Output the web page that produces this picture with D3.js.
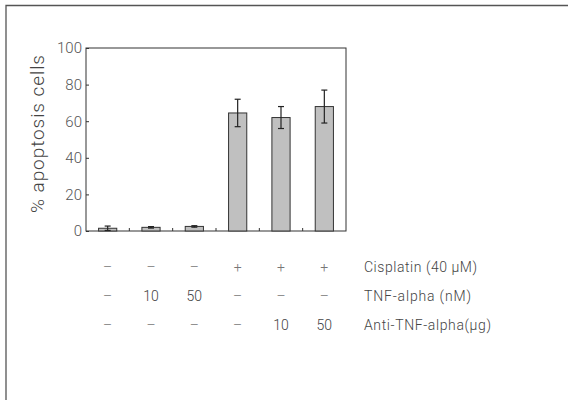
<!DOCTYPE html>
<html>
<head>
<meta charset="utf-8">
<script src="https://cdn.jsdelivr.net/npm/d3@7"></script>
<style>
  body { margin: 0; background: #fff; }
  svg { display: block; font-family: Roboto, "Noto Sans", sans-serif; font-weight: 300; }
</style>
</head>
<body>
<svg id="svg" width="568" height="400"></svg>
<script>
// data
var groups = ['g1', 'g2', 'g3', 'g4', 'g5', 'g6'];
var means = [1.5, 2.0, 2.5, 64.5, 62.0, 68.0];
var errs = [1.2, 0.4, 0.4, 7.5, 6.0, 9.0];
var yTicks = [0, 20, 40, 60, 80, 100];
var rowNames = ['Cisplatin (40 \u03BCM)', 'TNF-alpha (nM)', 'Anti-TNF-alpha(\u03BCg)'];
var cisplatin = ['\u2013', '\u2013', '\u2013', '+', '+', '+'];
var tnf = ['\u2013', '10', '50', '\u2013', '\u2013', '\u2013'];
var antiTnf = ['\u2013', '\u2013', '\u2013', '\u2013', '10', '50'];

var svg = d3.select('svg');

var plotLeft = 86, plotRight = 346, plotTop = 48, plotBottom = 231;

var x = d3.scaleBand()
    .domain(groups)
    .range([plotLeft, plotRight])
    .paddingInner(0.58)
    .paddingOuter(0.29);

var band = d3.scaleBand()
    .domain(groups)
    .range([plotLeft, plotRight]);

var y = d3.scaleLinear()
    .domain([0, 100])
    .range([plotBottom, plotTop]);

// outer frame (image is cropped on the right and bottom)
svg.append('path')
    .attr('d', 'M6,402 L6,5.5 L570,5.5')
    .attr('fill', 'none')
    .attr('stroke', '#555')
    .attr('stroke-width', 1.3);

// plot box
svg.append('rect')
    .attr('x', plotLeft)
    .attr('y', plotTop)
    .attr('width', plotRight - plotLeft)
    .attr('height', plotBottom - plotTop)
    .attr('fill', 'none')
    .attr('stroke', '#333')
    .attr('stroke-width', 1);

// y axis
var yAxis = svg.append('g')
    .attr('transform', 'translate(' + plotLeft + ',0)')
    .call(d3.axisLeft(y).tickValues(yTicks).tickSize(-3).tickPadding(4));
yAxis.select('.domain').remove();
yAxis.selectAll('line').attr('stroke', '#333');
yAxis.selectAll('text')
    .attr('fill', '#555')
    .attr('font-size', 15)
    .attr('font-family', 'Roboto, sans-serif')
    .attr('font-weight', 300);

// category separator ticks on the baseline
svg.selectAll('.sep')
    .data(groups.slice(1))
    .enter()
    .append('line')
    .attr('class', 'sep')
    .attr('x1', function (d) { return band(d); })
    .attr('x2', function (d) { return band(d); })
    .attr('y1', plotBottom)
    .attr('y2', plotBottom - 3)
    .attr('stroke', '#333');

svg.append('text')
    .attr('transform', 'translate(44,134) rotate(-90)')
    .attr('text-anchor', 'middle')
    .attr('fill', '#444')
    .attr('font-size', 19)
    .attr('textLength', 158)
    .attr('lengthAdjust', 'spacing')
    .text('% apoptosis cells');

// bars
svg.selectAll('.bar')
    .data(groups)
    .enter()
    .append('rect')
    .attr('class', 'bar')
    .attr('x', function (d) { return x(d); })
    .attr('y', function (d, i) { return y(means[i]); })
    .attr('width', x.bandwidth())
    .attr('height', function (d, i) { return plotBottom - y(means[i]); })
    .attr('fill', '#c0c0c0')
    .attr('stroke', '#333')
    .attr('stroke-width', 1);

// error bars
var eb = svg.selectAll('.err')
    .data(groups)
    .enter()
    .append('g')
    .attr('class', 'err')
    .attr('stroke', '#222')
    .attr('stroke-width', 1.2);

eb.append('line')
    .attr('x1', function (d) { return x(d) + x.bandwidth() / 2; })
    .attr('x2', function (d) { return x(d) + x.bandwidth() / 2; })
    .attr('y1', function (d, i) { return y(means[i] + errs[i]); })
    .attr('y2', function (d, i) { return y(Math.max(0, means[i] - errs[i])); });

eb.append('line')
    .attr('x1', function (d) { return x(d) + x.bandwidth() / 2 - 3; })
    .attr('x2', function (d) { return x(d) + x.bandwidth() / 2 + 3; })
    .attr('y1', function (d, i) { return y(means[i] + errs[i]); })
    .attr('y2', function (d, i) { return y(means[i] + errs[i]); });

eb.append('line')
    .attr('x1', function (d) { return x(d) + x.bandwidth() / 2 - 3; })
    .attr('x2', function (d) { return x(d) + x.bandwidth() / 2 + 3; })
    .attr('y1', function (d, i) { return y(Math.max(0, means[i] - errs[i])); })
    .attr('y2', function (d, i) { return y(Math.max(0, means[i] - errs[i])); });

// treatment table below the chart
var rows = [cisplatin, tnf, antiTnf];
var rowY = [272, 301, 330];
var labelWidths = [113, 107, 127];

rows.forEach(function (row, r) {
    svg.selectAll('.cell' + r)
        .data(row)
        .enter()
        .append('text')
        .attr('class', 'cell' + r)
        .attr('x', function (d, i) { return band(groups[i]) + band.bandwidth() / 2; })
        .attr('y', rowY[r])
        .attr('text-anchor', 'middle')
        .attr('fill', function (d) { return (d == '\u2013' || d == '+') ? '#777' : '#444'; })
        .attr('font-size', 14)
        .text(function (d) { return d; });

    svg.append('text')
        .attr('x', 364)
        .attr('y', rowY[r])
        .attr('fill', '#444')
        .attr('font-size', 14)
        .attr('textLength', labelWidths[r])
        .attr('lengthAdjust', 'spacing')
        .text(rowNames[r]);
});
</script>
</body>
</html>
